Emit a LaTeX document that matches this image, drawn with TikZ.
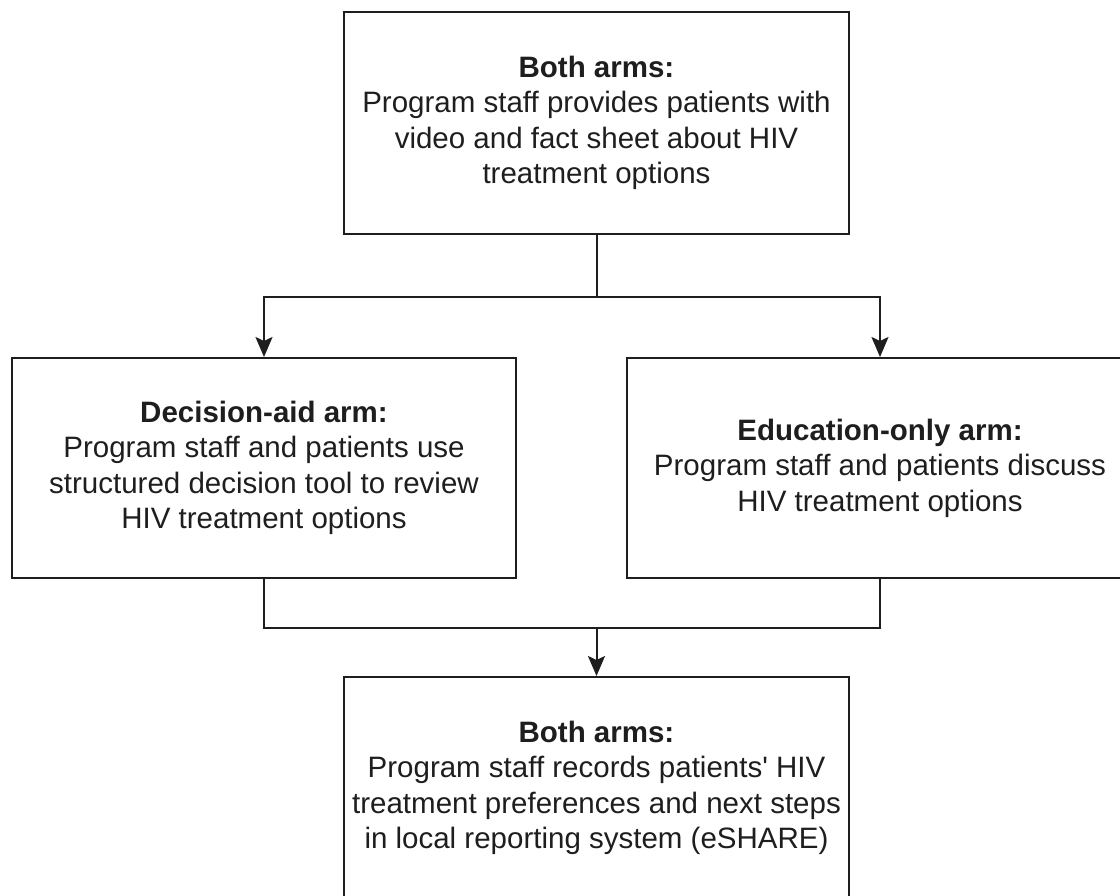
\documentclass[tikz,border=0pt]{standalone}
\usepackage{fontspec}
\setmainfont{Liberation Sans}
\usetikzlibrary{arrows.meta}
\definecolor{ink}{HTML}{1E1E1E}
\tikzset{
  box/.style={draw=ink, line width=2pt, fill=white, align=center, text=ink,
    font=\fontsize{29.5}{35.5}\selectfont, inner sep=0pt},
  conn/.style={draw=ink, line width=2pt},
  arr/.style={conn, -{Stealth[width=17pt,length=20pt,inset=4pt]}}
}
\begin{document}
\begin{tikzpicture}[x=1pt,y=-1pt]
\useasboundingbox (0,0) rectangle (1120,895);
\clip (0,0) rectangle (1120,895);
\fill[white] (0,0) rectangle (1120,895);
\node[box, minimum width=505pt, minimum height=222pt] (top) at (596.5,123)
  {\textbf{Both arms:}\\Program staff provides patients with\\video and fact sheet about HIV\\treatment options};
\node[box, minimum width=504pt, minimum height=220pt] (left) at (264,468)
  {\textbf{Decision-aid arm:}\\Program staff and patients use\\structured decision tool to review\\HIV treatment options};
\node[box, minimum width=506pt, minimum height=220pt] (right) at (880,468)
  {\textbf{Education-only arm:}\\Program staff and patients discuss\\HIV treatment options};
\node[box, minimum width=505pt, minimum height=222pt] (bottom) at (596.5,788)
  {\textbf{Both arms:}\\Program staff records patients\textquotesingle{} HIV\\treatment preferences and next steps\\in local reporting system (eSHARE)};
\coordinate (split) at (596.5,297);
\coordinate (merge) at (596.5,628);
\draw[conn] (top.south) -- (split);
\draw[arr] (split) -| (left.north);
\draw[arr] (split) -| (right.north);
\draw[conn] (left.south) |- (merge);
\draw[conn] (right.south) |- (merge);
\draw[arr] (merge) -- (bottom.north);
\end{tikzpicture}
\end{document}
